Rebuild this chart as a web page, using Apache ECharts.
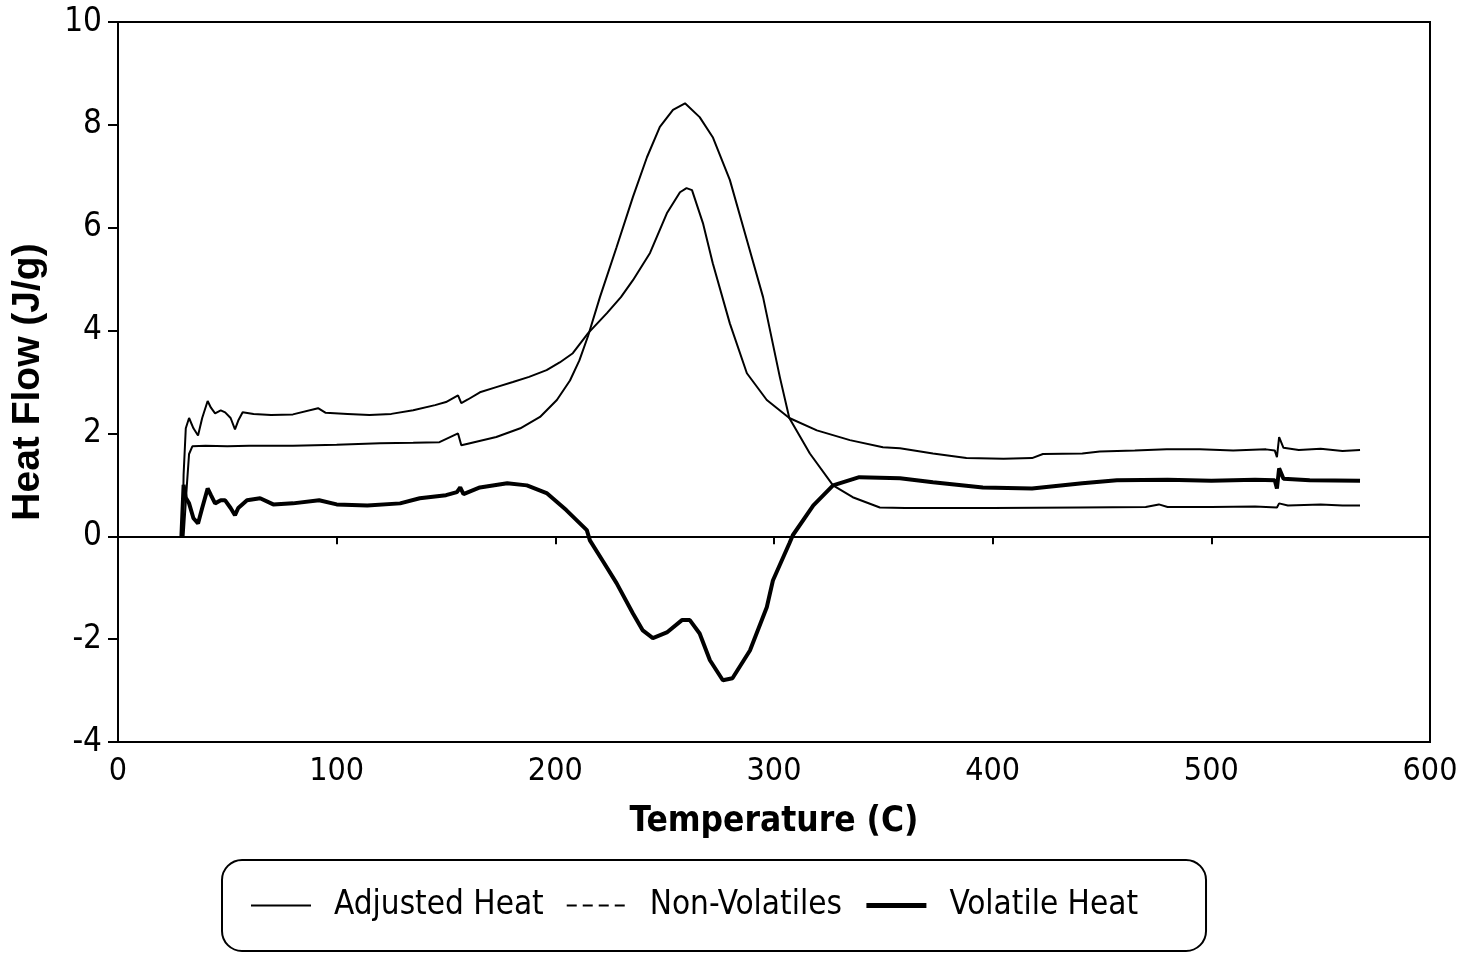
<!DOCTYPE html>
<html>
<head>
<meta charset="utf-8">
<script src="https://cdn.jsdelivr.net/npm/echarts@6/dist/echarts.min.js"></script>
<style>
html, body { margin: 0; padding: 0; background: #fff; }
#chart { width: 1469px; height: 955px; }
</style>
</head>
<body>
<div id="chart"></div>
<script>
var xTicks = [0, 100, 200, 300, 400, 500, 600];
var yTicks = [-4, -2, 0, 2, 4, 6, 8, 10];

// [temperature, heat flow]
var adjustedHeat = [
    [29.5, 0], [30, 1.2], [31, 2.1], [32.5, 2.3], [34.5, 2.1], [36.6, 1.96], [38.5, 2.3], [41, 2.63],
    [42.5, 2.5], [44.4, 2.39], [47, 2.45], [49, 2.41], [51.5, 2.3], [53.5, 2.08], [55, 2.25], [57, 2.41],
    [62, 2.38], [70, 2.36], [80, 2.37], [91.5, 2.49], [95, 2.4], [105, 2.38], [115, 2.36], [125, 2.38],
    [135, 2.45], [145, 2.55], [150, 2.61], [155.5, 2.74], [157, 2.59], [160, 2.66], [165.5, 2.8],
    [173, 2.9], [180.6, 3.0], [188, 3.1], [196, 3.23], [202, 3.38], [208, 3.56], [215, 3.95],
    [223.6, 4.34], [230, 4.65], [235.5, 4.98], [243.3, 5.51], [251, 6.28], [257, 6.69], [260, 6.77],
    [262.5, 6.73], [267.5, 6.09], [272, 5.31], [279.8, 4.14], [287.6, 3.17], [296.7, 2.65], [307, 2.3],
    [319.6, 2.06], [334.7, 1.87], [349.8, 1.73], [357.6, 1.71], [372.7, 1.61], [388, 1.52], [405, 1.51],
    [418, 1.52], [423, 1.6], [441, 1.61], [449, 1.65], [465, 1.67], [479.6, 1.69], [494.7, 1.69],
    [510, 1.67], [525, 1.69], [529, 1.67], [530, 1.54], [531, 1.93], [533, 1.72], [540, 1.68],
    [550, 1.7], [560, 1.66], [568, 1.68]
];

var nonVolatiles = [
    [30, 0], [31.5, 1.0], [32.5, 1.6], [34, 1.75], [40, 1.76], [50, 1.75], [60, 1.76], [80, 1.76],
    [100, 1.78], [119.8, 1.81], [135, 1.82], [147, 1.83], [155.5, 2.0], [157, 1.77], [160, 1.8],
    [173, 1.93], [184, 2.1], [193, 2.32], [200.7, 2.65], [206.7, 3.03], [211, 3.42], [215, 3.9],
    [220.4, 4.65], [228, 5.62], [235.5, 6.6], [241.9, 7.37], [247.8, 7.96], [253.8, 8.29], [259.3, 8.42],
    [266, 8.15], [272, 7.76], [279.8, 6.93], [287.6, 5.76], [295, 4.65], [302.7, 3.09], [307, 2.3],
    [316.4, 1.61], [327, 0.99], [336, 0.76], [348.4, 0.56], [360, 0.55], [400, 0.55], [440, 0.56],
    [470, 0.57], [476, 0.62], [480, 0.57], [500, 0.57], [520, 0.58], [530, 0.56], [531, 0.64],
    [535, 0.6], [550, 0.62], [560, 0.6], [568, 0.6]
];

var volatileHeat = [
    [29, 0], [29.5, 0.5], [30, 1.0], [31, 0.75], [32.5, 0.64], [34.5, 0.35], [36.6, 0.25], [38.5, 0.55],
    [41, 0.93], [42.5, 0.8], [44.4, 0.64], [47, 0.7], [49, 0.7], [51.5, 0.55], [53.5, 0.41], [55, 0.55],
    [59, 0.7], [65, 0.74], [71, 0.62], [80, 0.64], [92, 0.7], [100, 0.62], [114, 0.6], [129, 0.64],
    [138, 0.74], [150, 0.8], [155, 0.86], [156.5, 0.95], [158, 0.82], [165.5, 0.95], [178, 1.03],
    [187, 0.99], [196, 0.84], [205, 0.51], [214.4, 0.12], [215.8, -0.08], [222, -0.5], [228, -0.91],
    [235.5, -1.5], [240, -1.83], [244.6, -1.98], [251, -1.87], [257.9, -1.63], [261.5, -1.63],
    [266, -1.89], [270.7, -2.41], [276.6, -2.8], [281, -2.76], [289, -2.22], [296.7, -1.38],
    [299.5, -0.86], [307, -0.14], [308.6, 0.02], [318, 0.6], [327, 0.99], [339, 1.15], [357.6, 1.13],
    [372.7, 1.05], [395.5, 0.95], [418, 0.93], [441, 1.03], [456.8, 1.09], [480, 1.1], [500, 1.08],
    [520, 1.1], [529, 1.09], [530, 0.93], [531, 1.32], [533, 1.12], [545, 1.09], [568, 1.08]
];

var narrow = "'DejaVu Sans Condensed', 'Liberation Sans Narrow', sans-serif";

var chart = echarts.init(document.getElementById('chart'));

var option = {
    animation: false,
    backgroundColor: '#fff',
    grid: {
        left: 118,
        right: 39,
        top: 22,
        bottom: 213,
        show: true,
        borderColor: '#000',
        borderWidth: 2
    },
    legend: {
        left: 222,
        top: 860,
        orient: 'horizontal',
        padding: [29, 68, 29, 28],
        borderColor: '#000',
        borderWidth: 2,
        borderRadius: 20,
        itemWidth: 60,
        itemHeight: 14,
        itemGap: 22,
        itemStyle: { color: 'rgba(0,0,0,0)', borderWidth: 0, opacity: 0 },
        textStyle: {
            color: '#000',
            fontFamily: narrow,
            fontSize: 33,
            padding: [0, 0, 0, 18]
        },
        data: [
            { name: 'Adjusted Heat', lineStyle: { color: '#000', width: 2, type: 'solid' } },
            { name: 'Non-Volatiles', lineStyle: { color: '#000', width: 2, type: [10, 6] } },
            { name: 'Volatile Heat', lineStyle: { color: '#000', width: 5, type: 'solid' } }
        ]
    },
    xAxis: {
        type: 'value',
        min: 0,
        max: 600,
        interval: 100,
        name: 'Temperature (C)',
        nameLocation: 'middle',
        nameGap: 62,
        nameTextStyle: { color: '#000', fontFamily: narrow, fontSize: 35, fontWeight: 'bold' },
        axisLine: { lineStyle: { color: '#000', width: 2 } },
        axisTick: { length: 8, lineStyle: { color: '#000', width: 2 } },
        axisLabel: {
            color: '#000',
            fontFamily: narrow,
            fontSize: 32,
            margin: 14,
            formatter: function (v) { return xTicks.indexOf(v) >= 0 ? String(v) : ''; }
        },
        splitLine: { show: false }
    },
    yAxis: {
        type: 'value',
        min: -4,
        max: 10,
        interval: 2,
        name: 'Heat Flow (J/g)',
        nameLocation: 'middle',
        nameGap: 70,
        nameTextStyle: { color: '#000', fontFamily: "'Liberation Sans', Arial, sans-serif", fontSize: 39, fontWeight: 'bold' },
        axisLine: { lineStyle: { color: '#000', width: 2 } },
        axisTick: { length: 10, lineStyle: { color: '#000', width: 2 } },
        axisLabel: {
            color: '#000',
            fontFamily: narrow,
            fontSize: 33,
            margin: 16,
            formatter: function (v) { return yTicks.indexOf(v) >= 0 ? String(v) : ''; }
        },
        splitLine: { show: false }
    },
    series: [
        {
            name: 'Adjusted Heat',
            type: 'line',
            data: adjustedHeat,
            showSymbol: false,
            symbol: 'none',
            lineStyle: { color: '#000', width: 2 },
            itemStyle: { color: '#000' },
            markLine: {
                silent: true,
                symbol: 'none',
                label: { show: false },
                lineStyle: { color: '#000', width: 2, type: 'solid' },
                data: [{ yAxis: 0 }]
            }
        },
        {
            name: 'Non-Volatiles',
            type: 'line',
            data: nonVolatiles,
            showSymbol: false,
            symbol: 'none',
            lineStyle: { color: '#000', width: 2 },
            itemStyle: { color: '#000' }
        },
        {
            name: 'Volatile Heat',
            type: 'line',
            data: volatileHeat,
            showSymbol: false,
            symbol: 'none',
            lineStyle: { color: '#000', width: 4 },
            itemStyle: { color: '#000' }
        }
    ]
};

chart.setOption(option);
</script>
</body>
</html>
